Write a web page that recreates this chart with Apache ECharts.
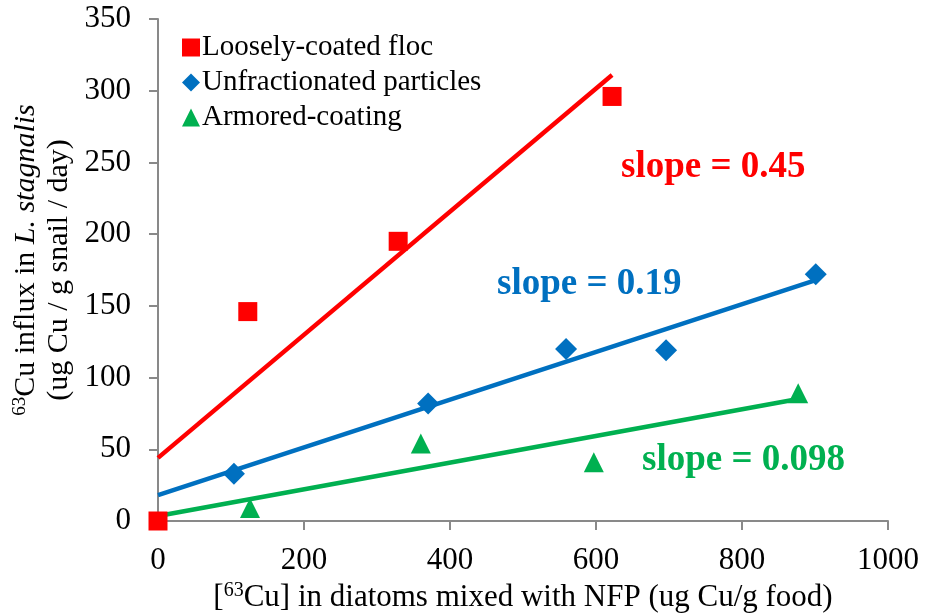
<!DOCTYPE html>
<html>
<head>
<meta charset="utf-8">
<script src="https://cdn.jsdelivr.net/npm/echarts@6/dist/echarts.min.js"></script>
<style>
  html, body { margin: 0; padding: 0; background: #fff; }
  #chart { width: 930px; height: 613px; }
</style>
</head>
<body>
<div id="chart"></div>
<script>
// measured points
const flocData = [[0, 0], [123, 146], [329, 195], [622, 296]];
const unfracData = [[104, 33], [370, 82], [559, 120], [696, 119], [901, 172]];
const armoredData = [[126, 9], [360, 54], [597, 41], [877, 89]];
// trendline ends as drawn in the picture
const flocTrend = [[0, 44], [622, 311]];
const unfracTrend = [[0, 18], [901, 168]];
const armoredTrend = [[0, 3.5], [877, 85]];
const seriesNames = ["Loosely-coated floc", "Unfractionated particles", "Armored-coating"];
const slopeLabels = ["slope = 0.45", "slope = 0.19", "slope = 0.098"];

const RED = "#FF0000", BLUE = "#0070C0", GREEN = "#00B050";
const FONT = "Liberation Serif";

const chart = echarts.init(document.getElementById("chart"));

function trend(data, color) {
  return {
    type: "line",
    data: data,
    showSymbol: false,
    symbol: "none",
    lineStyle: { color: color, width: 4.5 },
    silent: true,
    z: 1,
  };
}

function slopeText(text, color, x, y) {
  return {
    type: "text",
    x: x,
    y: y,
    style: { text: text, fill: color, font: "bold 37px " + FONT, verticalAlign: "middle" },
  };
}

chart.setOption({
  animation: false,
  grid: { left: 158, right: 42, top: 19, bottom: 92, outerBoundsMode: "none" },
  textStyle: { fontFamily: FONT },
  legend: {
    data: seriesNames,
    orient: "vertical",
    left: 177,
    top: 28,
    itemGap: 6,
    itemWidth: 18,
    itemHeight: 18,
    textStyle: { fontSize: 29, color: "#000", fontFamily: FONT, padding: [0, 0, 0, -3] },
  },
  xAxis: {
    type: "value",
    min: 0,
    max: 1000,
    interval: 200,
    splitLine: { show: false },
    axisLine: { lineStyle: { color: "#898989", width: 2 } },
    axisTick: { lineStyle: { color: "#898989", width: 2 }, length: 9 },
    axisLabel: { fontSize: 31, color: "#000", margin: 24, fontFamily: FONT, formatter: (v) => String(v) },
    name: "[{sup|63}Cu] in diatoms mixed with NFP (ug Cu/g food)",
    nameLocation: "middle",
    nameGap: 51,
    nameTextStyle: {
      fontSize: 31, color: "#000", fontFamily: FONT,
      rich: { sup: { fontSize: 20, color: "#000", fontFamily: FONT, padding: [0, 0, 14, 0] } },
    },
  },
  yAxis: {
    type: "value",
    min: 0,
    max: 350,
    interval: 50,
    splitLine: { show: false },
    axisLine: { show: true, lineStyle: { color: "#898989", width: 2 } },
    axisTick: { show: true, lineStyle: { color: "#898989", width: 2 }, length: 9 },
    axisLabel: { fontSize: 31, color: "#000", margin: 27, fontFamily: FONT },
  },
  graphic: [
    {
      type: "text",
      x: 26,
      y: 260,
      rotation: Math.PI / 2,
      style: {
        text: "{sup|63}Cu influx in {it|L. stagnalis}",
        align: "center",
        verticalAlign: "middle",
        font: "30px " + FONT,
        fill: "#000",
        rich: {
          sup: { fontSize: 19, fontFamily: FONT, padding: [0, 0, 12, 0] },
          it: { fontSize: 30, fontStyle: "italic", fontFamily: FONT },
        },
      },
    },
    {
      type: "text",
      x: 59,
      y: 270,
      rotation: Math.PI / 2,
      style: {
        text: "(ug Cu / g snail / day)",
        align: "center",
        verticalAlign: "middle",
        font: "30px " + FONT,
        fill: "#000",
      },
    },
    slopeText(slopeLabels[0], RED, 621, 167),
    slopeText(slopeLabels[1], BLUE, 497, 284),
    slopeText(slopeLabels[2], GREEN, 642, 460),
  ],
  series: [
    trend(flocTrend, RED),
    trend(unfracTrend, BLUE),
    trend(armoredTrend, GREEN),
    {
      name: seriesNames[0],
      type: "scatter",
      data: flocData,
      symbol: "rect",
      symbolSize: 19,
      itemStyle: { color: RED, opacity: 1 },
      z: 3,
    },
    {
      name: seriesNames[1],
      type: "scatter",
      data: unfracData,
      symbol: "diamond",
      symbolSize: 22,
      itemStyle: { color: BLUE, opacity: 1 },
      z: 3,
    },
    {
      name: seriesNames[2],
      type: "scatter",
      data: armoredData,
      symbol: "triangle",
      symbolSize: 20,
      itemStyle: { color: GREEN, opacity: 1 },
      z: 3,
    },
  ],
});
</script>
</body>
</html>
